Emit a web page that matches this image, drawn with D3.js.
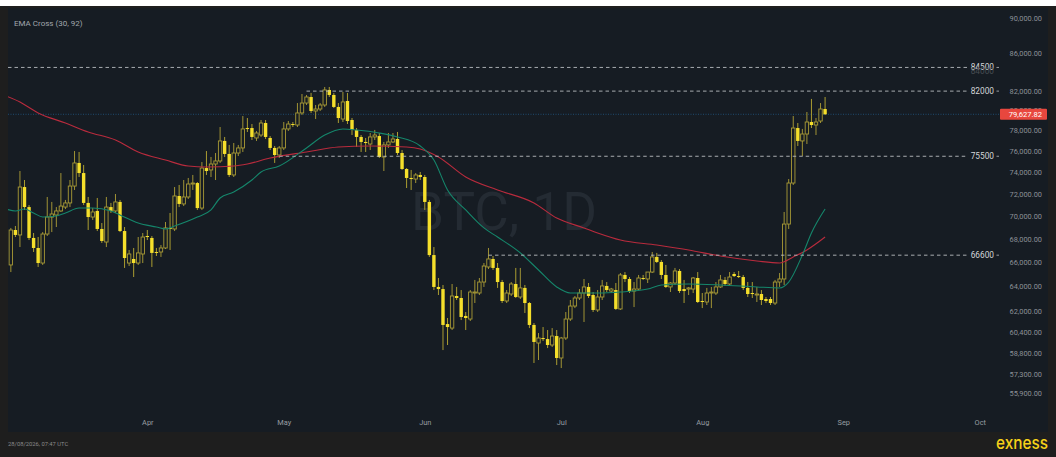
<!DOCTYPE html>
<html lang="en">
<head>
<meta charset="utf-8">
<title>BTC, 1D</title>
<style>
  html, body { margin: 0; padding: 0; background: #ffffff; }
  svg { display: block; }
</style>
</head>
<body>
<script src="https://cdn.jsdelivr.net/npm/d3@7"></script>
<script>
// daily candles, one per day starting 2 Mar 2026
const firstDay = "2026-03-02";

const open = [65780,68760,68330,72610,70790,68070,67210,65940,68410,69900,
  70080,70440,70790,71160,72700,74860,73910,71160,69900,70440,
  68850,67720,70790,70440,71250,68670,65940,66280,65940,66700,
  68240,68070,66870,66870,67210,68940,68850,71790,71070,71700,
  72890,72980,70700,74380,74200,74760,75050,76980,75720,73730,
  75810,76300,78250,78250,77270,77560,78750,77270,76300,75620,
  76300,78160,78650,78550,79760,80770,81390,79960,80160,80570,
  82120,81600,80370,79150,80980,79050,78060,77370,76880,76680,
  77370,77460,75430,76590,76880,77170,75810,74290,73450,73350,
  73730,73540,71250,66610,63970,63800,61030,60720,63240,63080,
  61660,61420,63480,63480,64370,65610,66280,65530,64370,62840,
  63400,64210,63160,63890,62680,60960,59580,59960,59880,59430,
  60110,58460,59960,61420,62440,63080,63480,63970,63320,62130,
  63160,64050,63640,63720,62210,64950,64620,63640,63800,64700,
  64620,65190,66450,66030,64950,63970,64290,65280,63800,63800,
  63800,64700,62840,62760,63480,63480,63970,64540,64210,65030,
  64860,64780,63890,63480,63320,63400,63000,63000,62680,64370,
  64620,69280,72980,78250,76980,77660,78850,78550,78950,80160];

const high = [68940,69110,74100,73260,70970,68500,68150,68580,71700,71250,
  70790,73910,71430,73260,76000,75910,74670,71700,70700,71610,
  69370,71700,71160,71970,71430,69020,67040,67210,68150,68500,
  68760,68240,67210,67460,69460,70260,72610,72800,73260,73450,
  73730,73070,74950,76000,75430,75810,78350,77370,76590,76780,
  76590,79450,79250,78650,77960,79050,79050,77460,76490,76490,
  78850,78950,78850,80770,81700,81600,81810,80570,80770,82430,
  82430,81810,80770,81910,81810,79250,78250,77560,77270,77760,
  78060,77760,76880,77760,77760,77860,76100,74380,74200,73910,
  74010,73730,71430,67290,64700,64130,61500,64210,63970,63720,
  61970,63720,64540,64700,65940,67210,66530,65940,64540,63720,
  64370,65530,65530,64130,62760,61110,60340,60800,60570,60720,
  60570,60040,61970,62920,63240,63800,64620,64290,63560,63720,
  64540,64370,63890,64290,65110,65190,64780,64370,64950,64950,
  65190,66870,66790,66190,65780,64370,65530,65440,64540,63970,
  64780,65190,63480,63890,63970,64370,64950,64780,65190,65190,
  65280,64950,64370,64370,63970,63720,63160,63160,64540,65110,
  70350,73350,79450,78750,78160,79860,81190,79250,80770,81390];

const low = [65190,68150,67290,70530,67890,66870,65610,65780,68240,68580,
  69020,70350,70610,70790,72340,73540,70970,68760,69640,68670,
  67640,67290,70260,70260,68580,65530,65690,64780,65780,65940,
  67890,65610,66530,66450,67120,67040,68670,70790,70880,71520,
  72340,70530,70530,73730,73540,73260,74860,75430,73540,73540,
  75520,75910,77860,77070,76980,77370,77170,76100,74860,75330,
  76100,77960,78350,78350,79560,80570,79760,79150,79960,80370,
  81390,80260,78750,78850,78650,77560,76390,75910,75910,76100,
  77070,75330,74100,76300,76780,75620,74200,72520,72340,72980,
  73260,70530,66450,63720,63320,59050,59430,60570,62920,61340,
  60570,61270,62680,63320,63970,65440,65360,63890,62680,62680,
  63240,63080,63000,61890,60720,58090,58310,59730,59200,59280,
  57940,57720,59810,61270,62280,62920,61190,63080,61970,61970,
  62920,63560,63480,62130,62130,64370,63480,62360,63720,64540,
  64290,65110,65940,64620,63890,63560,64130,63480,62680,63320,
  63480,62680,62280,62520,62280,63320,63890,64050,64130,64780,
  64700,63720,63160,63080,62760,62520,62680,62520,62520,63970,
  64130,68850,72800,76490,75520,76680,78250,77560,78750,79560];

const close = [68760,68330,72610,70790,68070,67210,65940,68410,69900,70170,
  70440,70880,71160,72700,74860,73910,71160,69900,70350,68850,
  67810,70790,70440,71250,68670,66360,66700,65940,66790,68150,
  68150,66790,66790,67210,68940,68850,71790,71070,71700,72890,
  72980,70700,74380,74100,74760,75050,76980,75720,73730,75810,
  76300,78160,78160,77370,77760,78750,77370,76300,75620,76300,
  78160,78650,78550,79760,80770,81390,79960,80160,80570,82120,
  81600,80370,79250,80880,78950,78060,77370,76880,76780,77370,
  77560,75430,76590,76880,77170,75810,74290,73450,73350,73730,
  73540,71250,66610,63970,63800,60960,60800,63240,63080,61580,
  61500,63560,63560,64370,65690,66280,65530,64370,62840,63480,
  64210,63160,63890,62680,60960,59660,59960,59880,59430,60110,
  58460,59960,61420,62440,63080,63480,63970,63240,62130,63160,
  64050,63720,63800,62210,64950,64620,63640,63800,64700,64620,
  65190,66450,66030,64950,63970,64290,65280,63640,63640,63890,
  64700,62760,62760,63480,63560,63970,64540,64210,64780,64860,
  64780,63890,63400,63400,63400,62920,62840,62680,64370,64620,
  69280,72980,78250,76980,77660,78850,78550,78850,80160,79627.82];

// EMA (30) and EMA (92); day = days after 1 Mar
const emaFastDay = [0,2,4,6,8,11,13,16,19,23,25,29,33,35,37,42,45,47,50,54,
  56,60,66,70,74,77,82,86,91,94,97,101,105,108,113,117,121,124,130,135,
  141,144,150,157,165,170,172,175,177,180];
const emaFast = [70610,70440,70610,70260,69900,69990,70260,70700,70700,70440,
  70080,69370,69020,68850,69110,69900,70530,71610,72160,73260,
  74010,74570,76300,77560,78160,78060,77760,77370,76490,75140,
  72340,70530,68940,68150,66790,65360,63970,63480,63480,63560,
  63800,64130,64210,64130,63970,63890,64370,66610,68500,70610];

const emaSlowDay = [0,3,7,13,18,24,29,35,40,44,50,53,58,66,73,80,88,91,95,101,
  108,116,121,127,130,135,143,150,157,165,170,173,176,180];
const emaSlow = [81490,80880,79760,78750,77860,77070,75910,75140,74570,74480,
  74570,74760,75330,75910,76390,76490,76390,76200,75430,73540,
  72340,71160,69810,68940,68500,67890,67460,67040,66530,66110,
  65940,66450,67040,68150];

// horizontal levels and the day each dashed line starts
const levels = [84500, 82000, 75500, 66600];
const levelFrom = ["2026-03-01", "2026-05-06", "2026-04-30", "2026-06-15"];

const priceTicks = [90000, 86000, 82000, 80000, 78000, 76000, 74000, 72000, 70000,
  68000, 66000, 64000, 62000, 60400, 58800, 57300, 55900];
const monthTicks = ["2026-04-01", "2026-05-01", "2026-06-01", "2026-07-01",
  "2026-08-01", "2026-09-01", "2026-10-01"];
const lastPrice = 79627.82;

const W = 1056, H = 457;
const plotBg = "#161c23";
const font = "Roboto, 'Open Sans', 'DejaVu Sans', sans-serif";
const parse = d3.timeParse("%Y-%m-%d");
const day0 = parse("2026-03-01");
const start = parse(firstDay);

const svg = d3.select("body").append("svg")
  .attr("width", W).attr("height", H)
  .attr("font-family", font);

// frame + panel
svg.append("rect").attr("x", 0).attr("y", 6).attr("width", W).attr("height", H - 6)
  .attr("fill", "#1e1e1e");
svg.append("rect").attr("x", 8).attr("y", 8).attr("width", 1040).attr("height", 424)
  .attr("fill", plotBg);

svg.append("clipPath").attr("id", "plotclip")
  .append("rect").attr("x", 8).attr("y", 8).attr("width", 992).attr("height", 424);

const x = d3.scaleTime()
  .domain([day0, parse("2026-10-02")])
  .range([6.3, 984.3]);

const y = d3.scaleLog()
  .domain([55900, 90000])
  .range([393.3, 17.7]);

// watermark
svg.append("text")
  .attr("x", 504).attr("y", 230)
  .attr("text-anchor", "middle")
  .attr("font-family", font)
  .attr("font-size", 53)
  .attr("fill", "#242b33")
  .text("BTC, 1D");

const plot = svg.append("g").attr("clip-path", "url(#plotclip)");

// last price dotted line
plot.append("line")
  .attr("x1", 8).attr("x2", 1000)
  .attr("y1", y(lastPrice)).attr("y2", y(lastPrice))
  .attr("stroke", "#1f4c70").attr("stroke-width", 1)
  .attr("stroke-dasharray", "1,1.5");

// candles
const candles = open.map((o, i) => ({
  date: d3.timeDay.offset(start, i),
  o: o, h: high[i], l: low[i], c: close[i]
}));

const bw = 3.4;
const cg = plot.append("g").selectAll("g").data(candles).join("g");

cg.append("line")
  .attr("x1", d => x(d.date)).attr("x2", d => x(d.date))
  .attr("y1", d => y(d.h)).attr("y2", d => y(d.l))
  .attr("stroke", d => d.c >= d.o ? "#a09335" : "#ab9d31")
  .attr("stroke-width", 1);

cg.append("rect")
  .attr("x", d => x(d.date) - bw / 2)
  .attr("width", bw)
  .attr("y", d => y(Math.max(d.o, d.c)))
  .attr("height", d => Math.max(1, y(Math.min(d.o, d.c)) - y(Math.max(d.o, d.c))))
  .attr("fill", d => d.c >= d.o ? plotBg : "#f5df2b")
  .attr("stroke", d => d.c >= d.o ? "#a99b36" : "none")
  .attr("stroke-width", 0.9);

// EMA lines
const emaLine = d3.line()
  .x(d => x(d.date))
  .y(d => y(d.v))
  .curve(d3.curveMonotoneX);

const fast = emaFastDay.map((dd, i) => ({ date: d3.timeDay.offset(day0, dd), v: emaFast[i] }));
const slow = emaSlowDay.map((dd, i) => ({ date: d3.timeDay.offset(day0, dd), v: emaSlow[i] }));

plot.append("path").datum(slow)
  .attr("d", emaLine)
  .attr("fill", "none")
  .attr("stroke", "#b92b3d").attr("stroke-width", 1.1);

plot.append("path").datum(fast)
  .attr("d", emaLine)
  .attr("fill", "none")
  .attr("stroke", "#15866b").attr("stroke-width", 1.1);

// dashed levels
const lv = svg.append("g").selectAll("g").data(levels).join("g");
lv.append("line")
  .attr("x1", (d, i) => Math.max(8, x(parse(levelFrom[i]))))
  .attr("x2", 967)
  .attr("y1", d => y(d)).attr("y2", d => y(d))
  .attr("stroke", "#b9bcbf").attr("stroke-width", 0.9)
  .attr("stroke-dasharray", "3.5,3");
lv.append("line")
  .attr("x1", 996.5).attr("x2", 999)
  .attr("y1", d => y(d)).attr("y2", d => y(d))
  .attr("stroke", "#b9bcbf").attr("stroke-width", 0.8);
// faint double-print under the first label
svg.append("text")
  .attr("x", 994).attr("y", y(levels[0]) + 6.5)
  .attr("text-anchor", "end")
  .attr("font-size", 8.3).attr("fill", "#464c52")
  .text("84000");
lv.append("text")
  .attr("x", 994).attr("y", d => y(d) + 3)
  .attr("text-anchor", "end")
  .attr("font-size", 8.3)
  .attr("fill", "#d4d6d8")
  .text(d => d);

// price axis
const yAxis = svg.append("g")
  .attr("transform", "translate(1042,0)")
  .call(d3.axisRight(y).tickValues(priceTicks).tickFormat(d3.format(",.2f")).tickSize(0));
yAxis.select(".domain").remove();
yAxis.attr("font-family", font);
yAxis.selectAll("text")
  .attr("x", 0).attr("text-anchor", "end")
  .attr("font-size", 7.4)
  .attr("fill", "#8c9197");

// last price tag
svg.append("rect")
  .attr("x", 1000).attr("y", y(lastPrice) - 5.5)
  .attr("width", 47).attr("height", 11)
  .attr("rx", 1)
  .attr("fill", "#e8473e");
svg.append("text")
  .attr("x", 1042).attr("y", y(lastPrice) + 2.7)
  .attr("text-anchor", "end")
  .attr("font-size", 7.6)
  .attr("fill", "#ffffff")
  .text(d3.format(",.2f")(lastPrice));

// time axis
const xAxis = svg.append("g")
  .attr("transform", "translate(0,416)")
  .call(d3.axisBottom(x).tickValues(monthTicks.map(parse)).tickFormat(d3.timeFormat("%b")).tickSize(0).tickPadding(4));
xAxis.select(".domain").remove();
xAxis.attr("font-family", font);
xAxis.selectAll("text")
  .attr("font-size", 7.4)
  .attr("fill", "#979ca2");

// indicator legend
svg.append("text")
  .attr("x", 14).attr("y", 25.5)
  .attr("font-size", 8)
  .attr("fill", "#a2a7ad")
  .text("EMA Cross (30, 92)");

// footer
svg.append("text")
  .attr("x", 8).attr("y", 446)
  .attr("font-size", 5.8)
  .attr("fill", "#8a8a8a")
  .text("28/08/2026, 07:47 UTC");

svg.append("text")
  .attr("x", 996).attr("y", 449)
  .attr("font-family", "Inter, Roboto, sans-serif")
  .attr("font-weight", 500)
  .attr("font-size", 18)
  .attr("textLength", 52)
  .attr("lengthAdjust", "spacingAndGlyphs")
  .attr("fill", "#f6d219")
  .text("exness");
</script>
</body>
</html>
